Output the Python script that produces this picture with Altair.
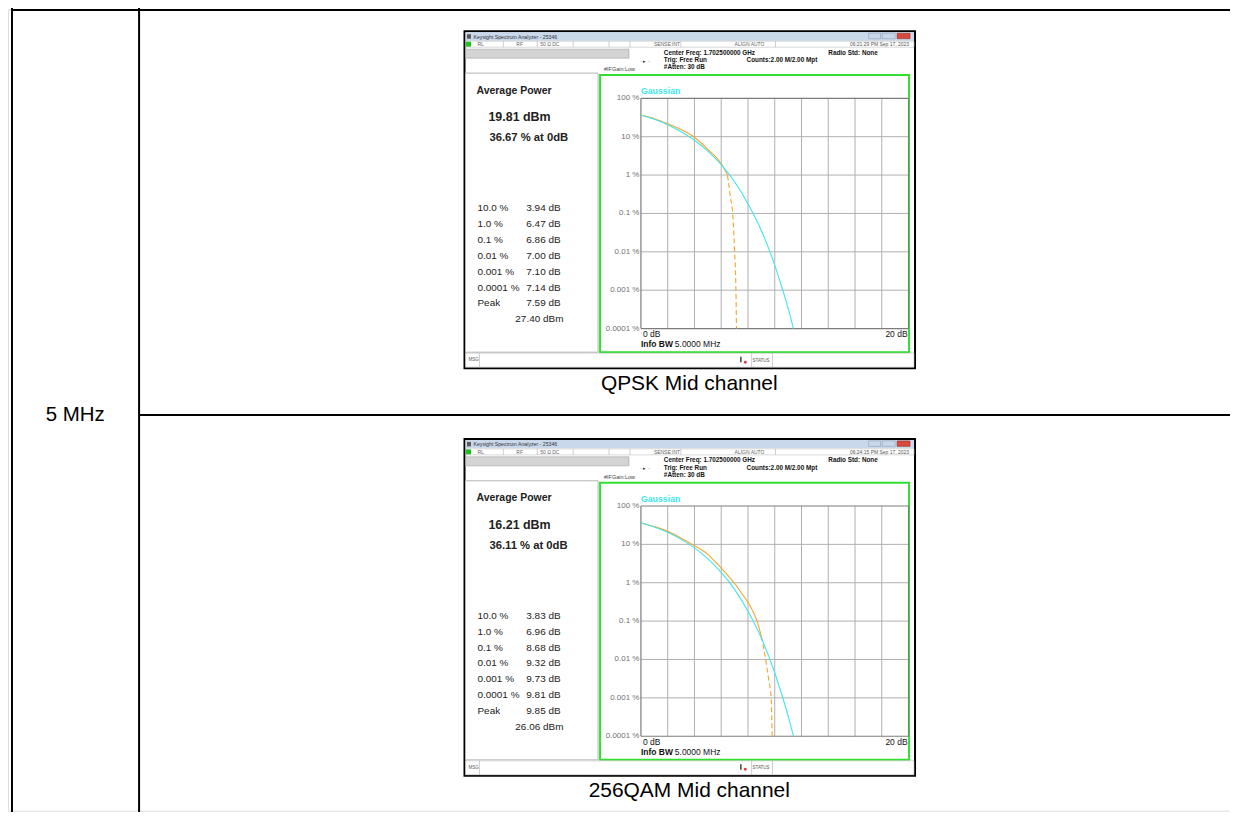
import altair as alt
import pandas as pd

# ------------------------------------------------------------------ data
grid_db = [0, 2, 4, 6, 8, 10, 12, 14, 16, 18, 20]
grid_pct = [100, 10, 1, 0.1, 0.01, 0.001, 0.0001]
y_tick_labels = ["100 %", "10 %", "1 %", "0.1 %", "0.01 %", "0.001 %", "0.0001 %"]
x_tick_labels = ["0 dB", "20 dB"]

gauss_db = [0, 1, 2, 3, 4, 5, 6, 7, 8, 9, 10, 10.5, 11, 11.4]
gauss_pct = [36.8, 28.4, 20.6, 13.5, 8.1, 4.2, 1.87, 0.67, 0.18, 0.036, 0.0045, 0.0013, 0.00034, 0.0001]

qpsk_db = [0, 1, 2, 3, 3.94, 5, 6, 6.47, 6.7, 6.86, 7.0, 7.1, 7.14]
qpsk_pct = [36.67, 29.5, 21.8, 15.3, 10, 4.7, 2.0, 1.0, 0.25, 0.1, 0.01, 0.001, 0.0001]

qam_db = [0, 1, 2, 3, 3.83, 5, 6, 6.96, 7.5, 8.1, 8.68, 9.0, 9.32, 9.55, 9.73, 9.78, 9.81]
qam_pct = [36.11, 29.0, 21.8, 14.5, 10, 5.5, 2.4, 1.0, 0.55, 0.27, 0.1, 0.04, 0.01, 0.003, 0.001, 0.0003, 0.0001]

stat_levels = ["10.0 %", "1.0 %", "0.1 %", "0.01 %", "0.001 %", "0.0001 %"]
qpsk_stat_db = [3.94, 6.47, 6.86, 7.00, 7.10, 7.14]
qam_stat_db = [3.83, 6.96, 8.68, 9.32, 9.73, 9.81]
peak_db = [7.59, 9.85]
peak_dbm = [27.40, 26.06]
avg_dbm = [19.81, 16.21]
pct_at_0db = [36.67, 36.11]
captions = ["QPSK Mid channel", "256QAM Mid channel"]
timestamps = ["06:21:29 PM Sep 17, 2023", "06:24:15 PM Sep 17, 2023"]
row_label = "5 MHz"

# ------------------------------------------------------------------ layout helpers
FONT = "Liberation Sans"
M = 8
OFFS = [0, 409]
CYAN = "#3ee6ef"
ORANGE = "#f7a428"
GREEN = "#30e030"


def px(v):
    return v - M


rects, lines, texts = [], [], []


def R(x1, y1, x2, y2, fill, stroke="transparent", sw=0):
    rects.append(dict(x=px(x1), y=px(y1), x2=px(x2), y2=px(y2), fill=fill, stroke=stroke, sw=sw))


def L(x1, y1, x2, y2, color="black", sw=1.0):
    lines.append(dict(x=px(x1), y=px(y1), x2=px(x2), y2=px(y2), color=color, sw=sw))


def T(x, y, text, size, color="#000000", weight="normal", align="left"):
    texts.append(dict(x=px(x), y=px(y), text=text, size=size, color=color, wt=weight, al=align))


# table grid
L(12, 8.8, 1240, 8.8, "black", 2)
L(12, 6, 12, 830, "black", 2)
L(139.5, 6, 139.5, 830, "black", 2)
L(139.5, 415, 1240, 415, "black", 2)
T(75.5, 415, row_label, 20.5, align="center")

for k, o in enumerate(OFFS):
    # window frame
    R(466, 30 + o, 918, 368 + o, "white", "black", 2)
    R(467, 31 + o, 917, 39.5 + o, "#cad8ec")
    R(468.5, 33 + o, 472.5, 37.5 + o, "#5a5a5a")
    R(871.5, 32 + o, 883.5, 37.5 + o, "#c9d7ea", "#8396b0", 0.5)
    R(885, 32 + o, 898, 37.5 + o, "#c9d7ea", "#8396b0", 0.5)
    R(900, 32 + o, 913, 37.5 + o, "#d64a3e", "#8a2a22", 0.5)
    T(475, 35.3 + o, "Keysight Spectrum Analyzer - 25346", 5.2, "#333333")
    # status row
    R(467, 40 + o, 917, 46 + o, "white", "#b0b0b0", 0.5)
    R(467, 40.5 + o, 472.5, 45.5 + o, "#1fbf1f")
    for sx in [505, 539, 575, 611, 632, 683, 778]:
        L(sx, 40 + o, sx, 46 + o, "#b0b0b0", 0.6)
    T(479, 43 + o, "RL", 5, "#666666")
    T(518, 43 + o, "RF", 5, "#666666")
    T(542, 43 + o, "50 Ω   DC", 5, "#666666")
    T(656, 43 + o, "SENSE:INT", 5, "#666666")
    T(737, 43 + o, "ALIGN AUTO", 5, "#666666")
    T(912, 43 + o, timestamps[k], 5, "#555555", align="right")
    # header
    R(467, 48 + o, 631, 57 + o, "#d4d4d4", "#a0a0a0", 0.6)
    T(666, 51.5 + o, "Center Freq: 1.702500000 GHz", 6.4, "#111111", "bold")
    T(666, 58.8 + o, "Trig: Free Run", 6.4, "#111111", "bold")
    T(666, 66 + o, "#Atten: 30 dB", 6.4, "#111111", "bold")
    T(749, 58.8 + o, "Counts:2.00 M/2.00 Mpt", 6.4, "#111111", "bold")
    T(831, 51.5 + o, "Radio Std: None", 6.4, "#111111", "bold")
    T(647, 59.5 + o, "· ▸ ·", 5.5, "#333333", align="center")
    T(606, 68 + o, "#IFGain:Low", 5.5, "#444444")
    # panels
    R(467, 72 + o, 600, 352 + o, "white", "#b5b5b5", 1)
    R(602, 74 + o, 912, 352 + o, "white", GREEN, 2)
    # MSG row
    R(467, 353 + o, 917, 367 + o, "white", "#b0b0b0", 0.5)
    for sx in [481, 754, 775]:
        L(sx, 353 + o, sx, 367 + o, "#b0b0b0", 0.6)
    R(742.5, 356.5 + o, 744, 362 + o, "#444444")
    T(470, 360 + o, "MSG", 4.5, "#555555")
    T(747.8, 361.5 + o, "●", 6.5, "#e03030", align="center")
    T(755, 360.5 + o, "STATUS", 4.5, "#555555")
    # left statistics panel
    T(478, 89.5 + o, "Average Power", 10.5, "#222222", "bold")
    T(490, 116.5 + o, f"{avg_dbm[k]:.2f} dBm", 12.5, "#222222", "bold")
    T(491, 137.3 + o, f"{pct_at_0db[k]:.2f} % at 0dB", 11.3, "#222222", "bold")
    sdb = qpsk_stat_db if k == 0 else qam_stat_db
    for i, (lab, v) in enumerate(zip(stat_levels, sdb)):
        T(479, 207.3 + 16 * i + o, lab, 10, "#222222")
        T(528, 207.3 + 16 * i + o, f"{v:.2f} dB", 10, "#222222")
    T(479, 303 + o, "Peak", 10, "#222222")
    T(528, 303 + o, f"{peak_db[k]:.2f} dB", 10, "#222222")
    T(517, 318.7 + o, f"{peak_dbm[k]:.2f} dBm", 10, "#222222")
    # plot annotations
    T(643, 90 + o, "Gaussian", 8.8, CYAN, "bold")
    T(643, 343.7 + o, "Info BW", 8.5, "#111111", "bold")
    T(677, 343.7 + o, "5.0000 MHz", 8.5, "#111111")
    # caption
    T(691.5, 383.5 + o, captions[k], 21, "#000000", align="center")

rect_df = pd.DataFrame(rects)
line_df = pd.DataFrame(lines)
text_df = pd.DataFrame(texts)

rect_layer = alt.Chart(rect_df).mark_rect().encode(
    x=alt.X("x:Q", scale=None, axis=None),
    x2="x2:Q",
    y=alt.Y("y:Q", scale=None, axis=None),
    y2="y2:Q",
    fill=alt.Fill("fill:N", scale=None),
    stroke=alt.Stroke("stroke:N", scale=None),
    strokeWidth=alt.StrokeWidth("sw:Q", scale=None),
)
line_layer = alt.Chart(line_df).mark_rule().encode(
    x=alt.X("x:Q", scale=None, axis=None),
    x2="x2:Q",
    y=alt.Y("y:Q", scale=None, axis=None),
    y2="y2:Q",
    color=alt.Color("color:N", scale=None),
    strokeWidth=alt.StrokeWidth("sw:Q", scale=None),
)
text_layers = []
for w in ["normal", "bold"]:
    for a in ["left", "center", "right"]:
        sub = text_df[(text_df["wt"] == w) & (text_df["al"] == a)]
        if len(sub) == 0:
            continue
        text_layers.append(
            alt.Chart(sub[["x", "y", "text", "size", "color"]]).mark_text(
                font=FONT, fontWeight=w, align=a, baseline="middle").encode(
                x=alt.X("x:Q", scale=None, axis=None),
                y=alt.Y("y:Q", scale=None, axis=None),
                text="text:N",
                size=alt.Size("size:Q", scale=None),
                color=alt.Color("color:N", scale=None),
            )
        )
decor = alt.layer(rect_layer, line_layer, *text_layers)


def panel(o, s_db, s_pct, dash_below):
    x0, x1 = px(643), px(911.5)
    yb, yt = px(328.3 + o), px(97.3 + o)
    xs = alt.Scale(domain=[grid_db[0], grid_db[-1]], range=[x0, x1], nice=False, zero=False)
    ys = alt.Scale(type="log", domain=[grid_pct[-1], grid_pct[0]], range=[yb, yt], nice=False)

    def X():
        return alt.X("db:Q", scale=xs, axis=None)

    def Y():
        return alt.Y("pct:Q", scale=ys, axis=None)

    vg = alt.Chart(pd.DataFrame({"db": grid_db[1:-1]})).mark_rule(color="#b0b0b0", strokeWidth=1).encode(
        x=X(), y=alt.value(yt), y2=alt.value(yb))
    hg = alt.Chart(pd.DataFrame({"pct": grid_pct[1:-1]})).mark_rule(color="#b0b0b0", strokeWidth=1).encode(
        y=Y(), x=alt.value(x0), x2=alt.value(x1))
    vf = alt.Chart(pd.DataFrame({"db": [grid_db[0], grid_db[-1]]})).mark_rule(color="#7c7c7c", strokeWidth=1.2).encode(
        x=X(), y=alt.value(yt), y2=alt.value(yb))
    hf = alt.Chart(pd.DataFrame({"pct": [grid_pct[0], grid_pct[-1]]})).mark_rule(color="#7c7c7c", strokeWidth=1.2).encode(
        y=Y(), x=alt.value(x0), x2=alt.value(x1))
    ylab = alt.Chart(pd.DataFrame({"pct": grid_pct, "lab": y_tick_labels})).mark_text(
        font=FONT, fontSize=8, color="#707070", align="right", baseline="middle").encode(
        y=Y(), x=alt.value(x0 - 1.5), text="lab:N")
    xlab0 = alt.Chart(pd.DataFrame({"db": [grid_db[0]], "lab": [x_tick_labels[0]]})).mark_text(
        font=FONT, fontSize=8.5, color="#111111", align="left", baseline="middle", dx=2).encode(
        x=X(), y=alt.value(px(334 + o)), text="lab:N")
    xlab1 = alt.Chart(pd.DataFrame({"db": [grid_db[-1]], "lab": [x_tick_labels[1]]})).mark_text(
        font=FONT, fontSize=8.5, color="#111111", align="right", baseline="middle", dx=-1).encode(
        x=X(), y=alt.value(px(334 + o)), text="lab:N")
    gauss = alt.Chart(pd.DataFrame({"db": gauss_db, "pct": gauss_pct})).mark_line(
        color=CYAN, strokeWidth=1.1, interpolate="monotone").encode(x=X(), y=Y(), order="db:Q")
    solid = [(d, p) for d, p in zip(s_db, s_pct) if p >= dash_below]
    dashed = [(d, p) for d, p in zip(s_db, s_pct) if p <= dash_below]
    meas_s = alt.Chart(pd.DataFrame(solid, columns=["db", "pct"])).mark_line(
        color=ORANGE, strokeWidth=1.1, interpolate="monotone").encode(x=X(), y=Y(), order="db:Q")
    meas_d = alt.Chart(pd.DataFrame(dashed, columns=["db", "pct"])).mark_line(
        color=ORANGE, strokeWidth=1.1, strokeDash=[5, 3], interpolate="monotone").encode(x=X(), y=Y(), order="db:Q")
    return alt.layer(vg, hg, vf, hf, ylab, xlab0, xlab1, meas_s, meas_d, gauss)


p1 = panel(OFFS[0], qpsk_db, qpsk_pct, 1.0)
p2 = panel(OFFS[1], qam_db, qam_pct, 0.04)

chart = (
    alt.layer(decor, p1, p2)
    .resolve_scale(x="independent", y="independent")
    .properties(width=1226, height=804, padding=0, autosize=alt.AutoSizeParams(type="none"))
    .configure_view(stroke=None)
    .configure(background="white")
)

chart.save("out.html", embed_options={"renderer": "svg", "actions": False})
